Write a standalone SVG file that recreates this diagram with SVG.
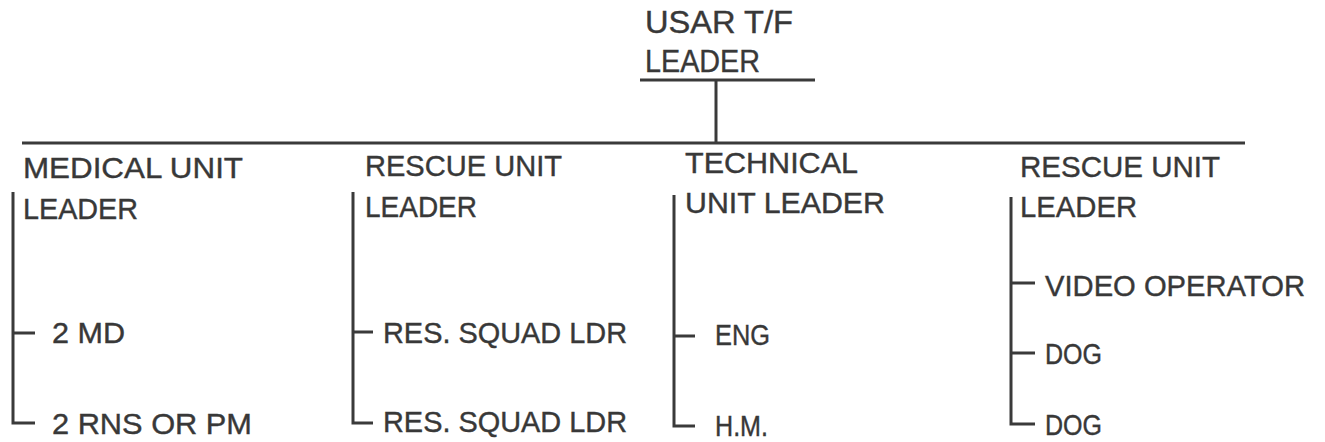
<svg xmlns="http://www.w3.org/2000/svg" width="1325" height="442" viewBox="0 0 1325 442">
<style>
text{font-family:"Liberation Sans",Arial,sans-serif;font-size:30px;fill:#383838;stroke:#383838;stroke-width:0.4}
.t{font-size:32px}
.c line,.c path{stroke:#3a3a3a;stroke-width:3;fill:none}
</style>
<rect width="1325" height="442" fill="#fff"/>
<g class="c" id="connectors">
<line x1="640" y1="80" x2="815" y2="80"/>
<line x1="716" y1="80" x2="716" y2="143"/>
<line x1="22" y1="143" x2="1245" y2="143"/>
<path d="M13,192 V423 H35 M13,333 H35"/>
<path d="M353,192 V423 H373 M353,332 H373"/>
<path d="M674,195 V426 H695 M674,336 H695"/>
<path d="M1011,197 V424 H1035 M1011,283 H1035 M1011,353 H1035"/>
</g>
<g id="top">
<text class="t" x="645" y="33" textLength="148" lengthAdjust="spacingAndGlyphs">USAR T/F</text>
<text class="t" x="645" y="72" textLength="115" lengthAdjust="spacingAndGlyphs">LEADER</text>
</g>
<g id="medical">
<text x="23" y="178" textLength="220" lengthAdjust="spacingAndGlyphs">MEDICAL UNIT</text>
<text x="23" y="219" textLength="115" lengthAdjust="spacingAndGlyphs">LEADER</text>
</g>
<g id="md"><text x="52" y="343" textLength="73" lengthAdjust="spacingAndGlyphs">2 MD</text></g>
<g id="rns"><text x="52" y="434" textLength="200" lengthAdjust="spacingAndGlyphs">2 RNS OR PM</text></g>
<g id="rescue1">
<text x="365" y="176" textLength="197" lengthAdjust="spacingAndGlyphs">RESCUE UNIT</text>
<text x="365" y="217" textLength="112" lengthAdjust="spacingAndGlyphs">LEADER</text>
</g>
<g id="squad1"><text x="383" y="343" textLength="244" lengthAdjust="spacingAndGlyphs">RES. SQUAD LDR</text></g>
<g id="squad2"><text x="383" y="432" textLength="244" lengthAdjust="spacingAndGlyphs">RES. SQUAD LDR</text></g>
<g id="technical">
<text x="685" y="173" textLength="173" lengthAdjust="spacingAndGlyphs">TECHNICAL</text>
<text x="685" y="213" textLength="200" lengthAdjust="spacingAndGlyphs">UNIT LEADER</text>
</g>
<g id="eng"><text x="715" y="345" textLength="55" lengthAdjust="spacingAndGlyphs">ENG</text></g>
<g id="hm"><text x="715" y="436" textLength="53" lengthAdjust="spacingAndGlyphs">H.M.</text></g>
<g id="rescue2">
<text x="1020" y="177" textLength="200" lengthAdjust="spacingAndGlyphs">RESCUE UNIT</text>
<text x="1020" y="217" textLength="117" lengthAdjust="spacingAndGlyphs">LEADER</text>
</g>
<g id="video"><text x="1045" y="296" textLength="260" lengthAdjust="spacingAndGlyphs">VIDEO OPERATOR</text></g>
<g id="dog1"><text x="1045" y="364" textLength="57" lengthAdjust="spacingAndGlyphs">DOG</text></g>
<g id="dog2"><text x="1045" y="435" textLength="57" lengthAdjust="spacingAndGlyphs">DOG</text></g>
</svg>
